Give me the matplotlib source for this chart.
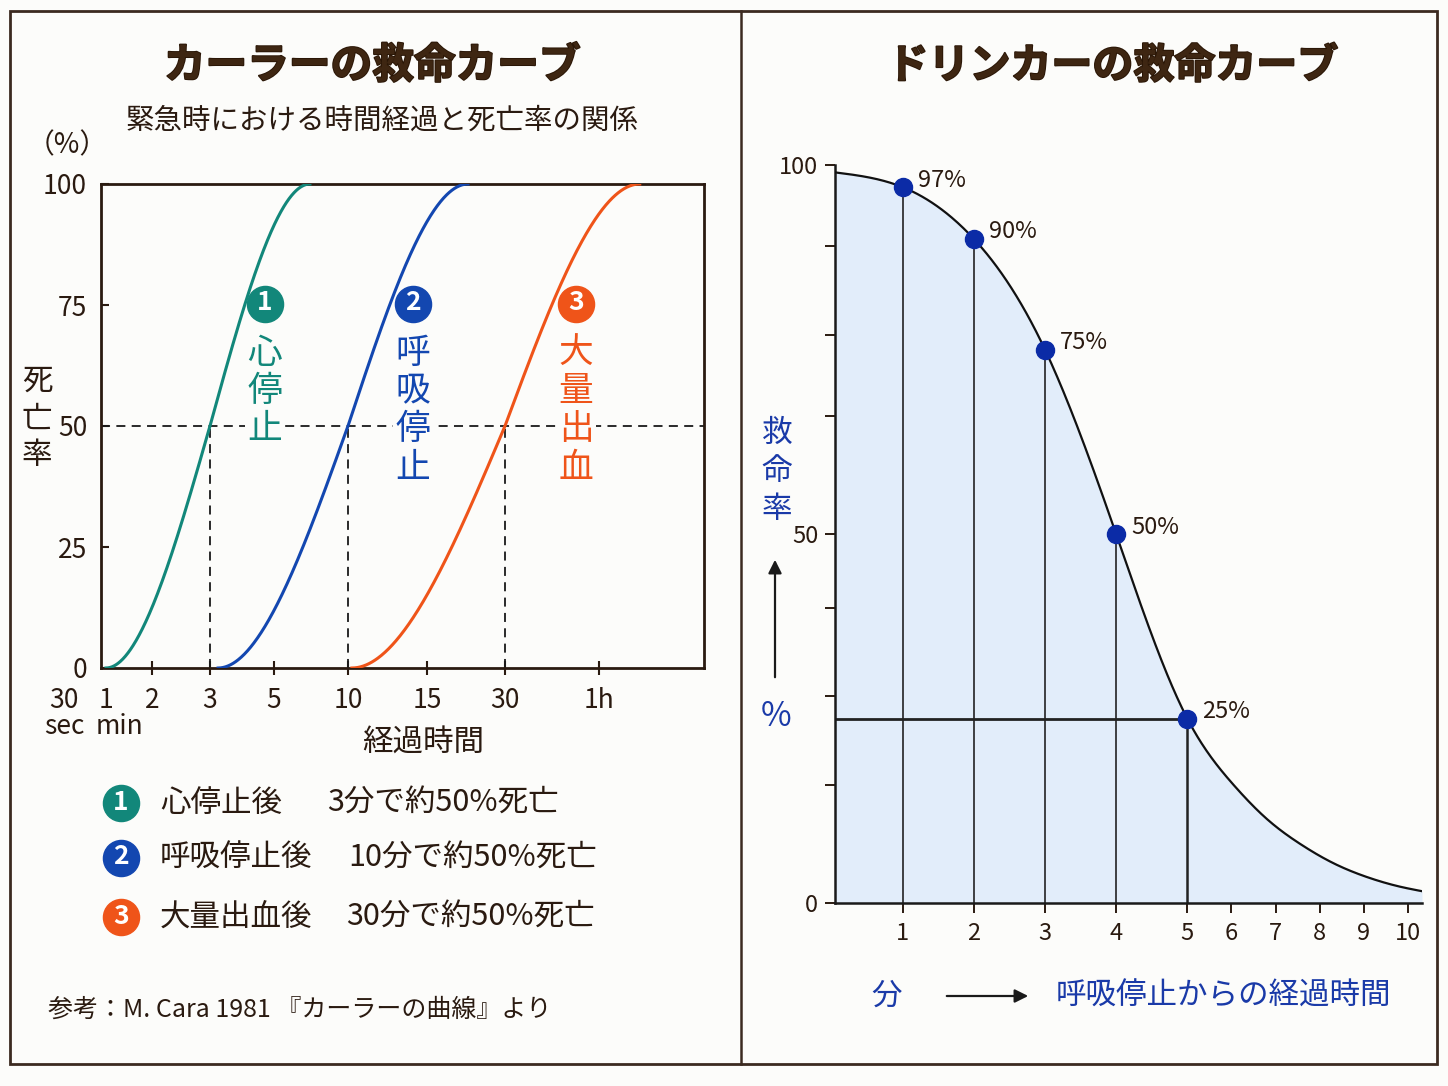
import numpy as np
import matplotlib
matplotlib.use("Agg")
import matplotlib.pyplot as plt
import matplotlib.patheffects as pe
from matplotlib import transforms
from matplotlib.lines import Line2D
from matplotlib.patches import Rectangle, FancyArrowPatch

plt.rcParams['font.family'] = ['Noto Sans CJK JP', 'DejaVu Sans']

# ---- left chart data (Cara curve) ----
curve_names = ['心停止', '呼吸停止', '大量出血']
legend_labels = ['心停止後', '呼吸停止後', '大量出血後']
legend_results = ['3分で約50%死亡', '10分で約50%死亡', '30分で約50%死亡']
half_death_min = [3, 10, 30]          # time where death rate reaches 50%
curve_start_min = [1.0, 3.2, 10.2]    # curve leaves 0%
curve_end_min = [7.0, 21.6, 81.0]     # curve reaches 100%
curve_colors = ['#12877a', '#1347b0', '#ef5419']

time_ticks = [2, 3, 5, 10, 15, 30, 60]
time_tick_labels = ['2', '3', '5', '10', '15', '30', '1h']
death_ticks = [0, 25, 50, 75, 100]

# ---- right chart data (Drinker curve) ----
rescue_min = [1, 2, 3, 4, 5]
rescue_pct = [97, 90, 75, 50, 25]
trace_min = [0.05, 1, 2, 3, 4, 5, 6.05, 6.82, 7.56, 8.31, 9.08, 9.83, 10.32]
trace_pct = [99, 97, 90, 75, 50, 25, 16.0, 11.3, 8.0, 5.4, 3.5, 2.2, 1.6]
minute_ticks = list(range(1, 11))
rescue_minor_ticks = [16, 28, 40, 66, 77, 89]

# ---- styling ----
W, H = 1448, 1086
BG = '#fcfcfa'
INK = '#2a1a10'
TITLE = '#3e2612'
BLUE = '#1a3aa8'
DOT = '#0b2ba6'

# left time axis: piecewise log scale through the tick marks
knot_min = [0.5, 1, 2, 3, 5, 10, 15, 30, 60, 130]
knot_pos = [-37, 5, 51, 109, 173, 247, 326, 404, 498, 603]


def fwd_left(t):
    t = np.clip(np.asarray(t, float), 1e-3, None)
    return np.interp(np.log(t), np.log(knot_min), knot_pos)


def inv_left(u):
    return np.exp(np.interp(np.asarray(u, float), knot_pos, np.log(knot_min)))


# right time axis: minutes after 5 are drawn compressed
def fwd_right(t):
    t = np.asarray(t, float)
    return np.where(t <= 5, t, 5 + (t - 5) * 0.62)


def inv_right(u):
    u = np.asarray(u, float)
    return np.where(u <= 5, u, 5 + (u - 5) / 0.62)


def natural_spline(x, y, xn):
    x = np.asarray(x, float)
    y = np.asarray(y, float)
    n = len(x)
    h = np.diff(x)
    A = np.zeros((n, n))
    b = np.zeros(n)
    A[0, 0] = A[-1, -1] = 1
    for i in range(1, n - 1):
        A[i, i - 1] = h[i - 1]
        A[i, i] = 2 * (h[i - 1] + h[i])
        A[i, i + 1] = h[i]
        b[i] = 6 * ((y[i + 1] - y[i]) / h[i] - (y[i] - y[i - 1]) / h[i - 1])
    M = np.linalg.solve(A, b)
    k = np.clip(np.searchsorted(x, xn) - 1, 0, n - 2)
    hk = h[k]
    a = x[k + 1] - xn
    c = xn - x[k]
    return (M[k] * a**3 / (6 * hk) + M[k + 1] * c**3 / (6 * hk)
            + (y[k] / hk - M[k] * hk / 6) * a + (y[k + 1] / hk - M[k + 1] * hk / 6) * c)


def fx(x):
    return x / W


def fy(y):
    return 1 - y / H


fig = plt.figure(figsize=(W / 100, H / 100), dpi=100, facecolor=BG)

# frame and divider
fig.add_artist(Rectangle((fx(10), fy(1064)), fx(1437) - fx(10), fy(11) - fy(1064),
                         transform=fig.transFigure, fill=False, ec='#3b2a20', lw=2))
fig.add_artist(Line2D([fx(741), fx(741)], [fy(11), fy(1064)],
                      transform=fig.transFigure, color='#3b2a20', lw=1.8))

title_fx = [pe.withStroke(linewidth=1.4, foreground='#2a1606')]

# ================= left chart =================
ax = fig.add_axes([fx(101), fy(668), fx(704) - fx(101), fy(184) - fy(668)])
ax.set_facecolor(BG)
ax.set_xscale('function', functions=(fwd_left, inv_left))
ax.set_xlim(float(inv_left(0)), knot_min[-1])
ax.set_ylim(0, 100)

for s, m, e, c in zip(curve_start_min, half_death_min, curve_end_min, curve_colors):
    u0, um, u1 = fwd_left([s, m, e])
    u = np.linspace(u0, u1, 400)
    p = np.where(u < um, 0.5 * (u - u0) / (um - u0), 0.5 + 0.5 * (u - um) / (u1 - um))
    y = 100 * (3 * p**2 - 2 * p**3)
    ax.plot(inv_left(u), y, color=c, lw=2.2, zorder=3)

ax.axhline(50, color='#1a1a1a', lw=1.3, ls=(0, (5, 3.5)), zorder=2)
ax.vlines(half_death_min, 0, 50, color='#1a1a1a', lw=1.3, ls=(0, (5, 3.5)), zorder=2)

ax.set_xticks(time_ticks, time_tick_labels)
ax.minorticks_off()
ax.set_yticks(death_ticks)
ax.tick_params(axis='x', direction='inout', length=10, width=1.5, pad=9,
               labelsize=19, colors=INK)
ax.tick_params(axis='y', direction='in', length=6, width=1.5, pad=10,
               labelsize=19, colors=INK)
for sp in ax.spines.values():
    sp.set_linewidth(2)
    sp.set_color(INK)

tr = transforms.blended_transform_factory(ax.transData, fig.transFigure)
ax.text(0.5, fy(700), '30', transform=tr, ha='center', va='center', fontsize=19, color=INK)
ax.text(0.5, fy(726), 'sec', transform=tr, ha='center', va='center', fontsize=19, color=INK)
ax.text(1, fy(700), '1', transform=tr, ha='center', va='center', fontsize=19, color=INK)
ax.text(1, fy(726), 'min', transform=transforms.offset_copy(tr, fig, x=14, units='dots'),
        ha='center', va='center', fontsize=19, color=INK)

fig.text(fx(423), fy(743), '経過時間', ha='center', va='center', fontsize=22, color=INK)
fig.text(fx(67), fy(145), '（%）', ha='center', va='center', fontsize=20, color=INK)
for ch, yy in zip('死亡率', [381, 419, 455]):
    fig.text(fx(37), fy(yy), ch, ha='center', va='center', fontsize=22, color=INK)

fig.text(fx(372), fy(66), 'カーラーの救命カーブ', ha='center', va='center',
         fontsize=30, fontweight='bold', color=TITLE, path_effects=title_fx)
fig.text(fx(382), fy(121), '緊急時における時間経過と死亡率の関係', ha='center', va='center',
         fontsize=20.5, color=INK)

# curve labels inside the plot
label_cols = [265, 413, 576]
for i, (name, c, xc) in enumerate(zip(curve_names, curve_colors, label_cols)):
    fig.add_artist(Line2D([fx(xc)], [fy(304)], marker='o', ms=26, mfc=c, mec=c,
                          transform=fig.transFigure, zorder=5))
    fig.text(fx(xc), fy(303), str(i + 1), ha='center', va='center', fontsize=19,
             fontweight='bold', color='white', zorder=6)
    for j, ch in enumerate(name):
        fig.text(fx(xc), fy(353 + 38.5 * j), ch, ha='center', va='center', fontsize=25,
                 color=c, zorder=6,
                 bbox=dict(boxstyle='square,pad=0.08', fc=BG, ec='none'))

# legend below
for i, (lab, res, c, yy, xr) in enumerate(zip(legend_labels, legend_results, curve_colors,
                                              [803, 858, 917], [327, 348, 346])):
    fig.add_artist(Line2D([fx(121)], [fy(yy)], marker='o', ms=26, mfc=c, mec=c,
                          transform=fig.transFigure, zorder=5))
    fig.text(fx(121), fy(yy - 1), str(i + 1), ha='center', va='center', fontsize=19,
             fontweight='bold', color='white', zorder=6)
    fig.text(fx(160), fy(yy), lab, ha='left', va='center', fontsize=22, color=INK)
    fig.text(fx(xr), fy(yy), res, ha='left', va='center', fontsize=22, color=INK)

fig.text(fx(48), fy(1010), '参考：M. Cara 1981 『カーラーの曲線』より', ha='left', va='center',
         fontsize=18, color=INK)

# ================= right chart =================
ax2 = fig.add_axes([fx(835), fy(903), fx(1422) - fx(835), fy(165) - fy(903)])
ax2.set_facecolor('none')
ax2.set_xscale('function', functions=(fwd_right, inv_right))
ax2.set_xlim(trace_min[0], trace_min[-1])
ax2.set_ylim(0, 100)

u_trace = fwd_right(trace_min)
u_dense = np.linspace(u_trace[0], u_trace[-1], 600)
y_dense = natural_spline(u_trace, trace_pct, u_dense)
t_dense = inv_right(u_dense)
ax2.fill_between(t_dense, 0, y_dense, color='#e2edfa', lw=0, zorder=0)
ax2.plot(t_dense, y_dense, color='#111111', lw=1.6, zorder=3)

ax2.vlines(rescue_min[:-1], 0, rescue_pct[:-1], color='#222222', lw=1.2, zorder=2)
ax2.vlines(rescue_min[-1], 0, rescue_pct[-1], color='#222222', lw=1.8, zorder=2)
ax2.hlines(rescue_pct[-1], trace_min[0], rescue_min[-1], color='#222222', lw=2, zorder=2)
ax2.plot(rescue_min, rescue_pct, 'o', ms=13, color=DOT, zorder=5, clip_on=False)
for t, p in zip(rescue_min, rescue_pct):
    ax2.annotate(f'{p}%', (t, p), xytext=(11, 5), textcoords='offset points',
                 ha='left', va='center', fontsize=17, color=INK)

ax2.set_xticks(minute_ticks)
ax2.set_yticks([0, 50, 100])
ax2.set_yticks(rescue_minor_ticks, minor=True)
ax2.tick_params(axis='x', which='both', direction='out', length=7, width=1.4, pad=7,
                labelsize=17, colors=INK)
ax2.tick_params(axis='x', which='minor', length=0)
ax2.tick_params(axis='y', which='both', direction='out', length=7, width=1.4, pad=5,
                labelsize=17, colors=INK)
for side in ['top', 'right']:
    ax2.spines[side].set_visible(False)
for side in ['left', 'bottom']:
    ax2.spines[side].set_linewidth(1.8)
    ax2.spines[side].set_color('#1a1a1a')

fig.text(fx(1113), fy(66), 'ドリンカーの救命カーブ', ha='center', va='center',
         fontsize=29.5, fontweight='bold', color=TITLE, path_effects=title_fx)

for ch, yy in zip('救命率', [433, 472, 510]):
    fig.text(fx(777), fy(yy), ch, ha='center', va='center', fontsize=22, color=BLUE)
fig.add_artist(FancyArrowPatch((fx(775), fy(680)), (fx(775), fy(557)),
                               transform=fig.transFigure, arrowstyle='-|>',
                               mutation_scale=20, lw=1.6, color='#1a1a1a'))
fig.text(fx(776), fy(717), '%', ha='center', va='center', fontsize=24, color=BLUE)

fig.text(fx(887), fy(996), '分', ha='center', va='center', fontsize=22, color=BLUE)
fig.add_artist(FancyArrowPatch((fx(944), fy(996)), (fx(1031), fy(996)),
                               transform=fig.transFigure, arrowstyle='-|>',
                               mutation_scale=20, lw=1.6, color='#1a1a1a'))
fig.text(fx(1056), fy(996), '呼吸停止からの経過時間', ha='left', va='center',
         fontsize=22, color=BLUE)

fig.savefig('out.png', dpi=100, facecolor=BG)
